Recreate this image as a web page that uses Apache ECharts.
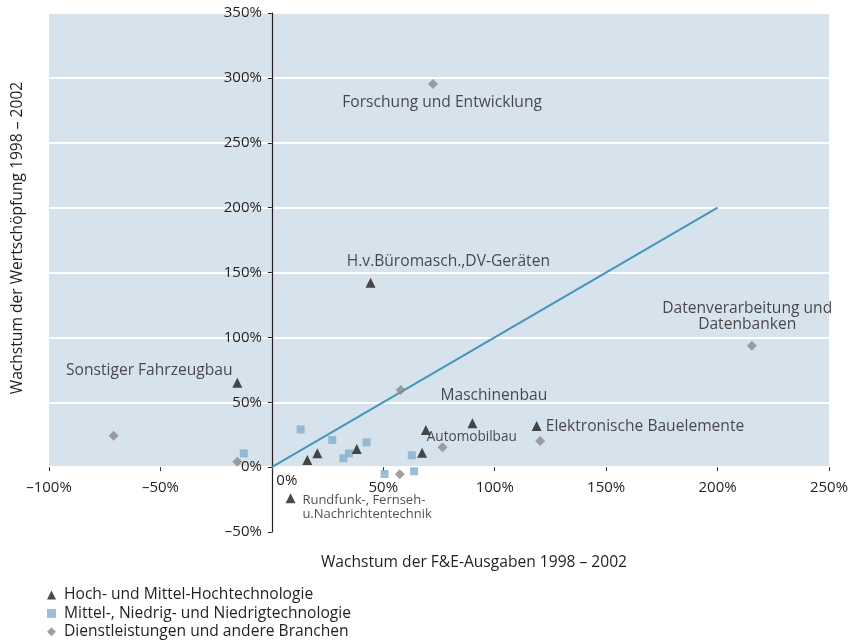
<!DOCTYPE html>
<html><head><meta charset="utf-8">
<script src="https://cdn.jsdelivr.net/npm/echarts@6/dist/echarts.min.js"></script>
<style>html,body{margin:0;padding:0;background:#fff}#c{width:855px;height:641px}</style>
</head><body><div id="c"></div>
<script>
// ---- data ----
const seriesNames = ['Hoch- und Mittel-Hochtechnologie', 'Mittel-, Niedrig- und Niedrigtechnologie', 'Dienstleistungen und andere Branchen'];
const hochX = [-15.5, 44.3, 15.9, 20.4, 38.1, 67.4, 69.1, 90.0, 118.8, 8.4];
const hochY = [65.0, 142.1, 5.5, 10.6, 13.9, 11.1, 28.6, 33.8, 31.7, -24.0];
const mittelX = [12.9, 27.1, 32.1, 34.6, 42.5, 50.6, 62.8, 63.8, -12.6];
const mittelY = [29.1, 20.9, 6.8, 10.6, 19.1, -5.3, 9.1, -3.2, 10.6];
const dienstX = [72.3, 215.4, 120.4, 76.6, 57.8, 57.4, -71.0, -15.5];
const dienstY = [295.3, 93.6, 20.1, 15.3, 59.4, -5.5, 24.2, 4.2];
const trendX = [0, 200];
const trendY = [0, 200];
const xMin = -100, xMax = 250, xStep = 50;
const yMin = -50, yMax = 350, yStep = 50;
const xTitle = 'Wachstum der F&E-Ausgaben 1998 – 2002';
const yTitle = 'Wachstum der Wertschöpfung 1998 – 2002';
// annotation texts and their anchors (data units)
const annotTexts = ['Forschung und Entwicklung', 'H.v.Büromasch.,DV-Geräten', 'Sonstiger Fahrzeugbau', 'Maschinenbau', 'Automobilbau', 'Elektronische Bauelemente', 'Datenverarbeitung und\nDatenbanken', 'Rundfunk-, Fernseh-\nu.Nachrichtentechnik'];
const annotX = [76.4, 79.2, -55.0, 99.6, 89.7, 122.9, 213.3, 13.7];
const annotY = [281.0, 158.3, 74.8, 54.8, 23.4, 31.1, 116.2, -31.1];

// ---- styles / layout ----
const FONT = 'Open Sans';
const TXT = '#231f20';
const FS = 15.6;
const annotStyle = [
  {align: 'center', fontSize: FS}, {align: 'center', fontSize: FS}, {align: 'center', fontSize: FS},
  {align: 'center', fontSize: FS}, {align: 'center', fontSize: 13.6}, {align: 'left', fontSize: FS},
  {align: 'center', fontSize: FS, lineHeight: 16}, {align: 'left', fontSize: 13, lineHeight: 14}
];
const G = {left: 49, right: 26, top: 13, bottom: 109};
const W = 855, H = 641;
const gridW = W - G.left - G.right, gridH = H - G.top - G.bottom;
// place axes through the origin
const yAxisOffset = -((0 - xMin) / (xMax - xMin)) * gridW;
const xAxisOffset = -((0 - yMin) / (yMax - yMin)) * gridH;

const zip = (xs, ys) => xs.map((x, i) => [x, ys[i]]);
const pct = v => (v < 0 ? '–' + Math.abs(v) : String(v)) + '%';

const chart = echarts.init(document.getElementById('c'), null, {renderer: 'canvas'});
chart.setOption({
  animation: false,
  textStyle: {fontFamily: FONT, color: TXT},
  grid: Object.assign({containLabel: false}, G),
  xAxis: {
    type: 'value', min: xMin, max: xMax, interval: xStep, position: 'bottom', offset: xAxisOffset,
    axisLine: {show: true, onZero: false, lineStyle: {color: 'rgba(0,0,0,0)'}},
    axisTick: {show: true, length: 4, lineStyle: {color: '#333'}},
    splitLine: {show: false},
    axisLabel: {
      margin: 12, fontSize: 15, lineHeight: 18, color: TXT, fontFamily: FONT,
      formatter: v => v === 0 ? '{z|0%}' : pct(v),
      rich: {z: {padding: [0, 0, 0, 30], lineHeight: 4, fontSize: 15, color: TXT, fontFamily: FONT}}
    }
  },
  yAxis: {
    type: 'value', min: yMin, max: yMax, interval: yStep, position: 'left', offset: yAxisOffset,
    axisLine: {show: true, onZero: false, lineStyle: {color: '#231f20', width: 1.2}},
    axisTick: {show: true, length: 4, lineStyle: {color: '#231f20'}},
    splitLine: {show: true, lineStyle: {color: '#ffffff', width: 2}},
    splitArea: {show: true, areaStyle: {color: ['#ffffff', '#d6e2ec', '#d6e2ec', '#d6e2ec', '#d6e2ec', '#d6e2ec', '#d6e2ec', '#d6e2ec']}},
    axisLabel: {margin: 10, fontSize: 15, color: TXT, fontFamily: FONT, formatter: pct}
  },
  legend: {
    orient: 'vertical', left: 47, top: 587, height: 80, padding: 0, itemWidth: 9, itemHeight: 9, itemGap: 2.4,
    textStyle: {fontSize: FS, color: TXT, fontFamily: FONT, lineHeight: 14, padding: [0, 0, 0, 3]},
    data: [
      {name: seriesNames[0], icon: 'triangle'},
      {name: seriesNames[1], icon: 'rect'},
      {name: seriesNames[2], icon: 'diamond'}
    ]
  },
  graphic: [
    {type: 'text', x: 474, y: 563, style: {text: xTitle, align: 'center', verticalAlign: 'middle', fontSize: FS, fontFamily: FONT, fill: TXT}},
    {type: 'text', x: 18, y: 238, rotation: Math.PI / 2, style: {text: yTitle, align: 'center', verticalAlign: 'middle', fontSize: FS, fontFamily: FONT, fill: TXT}}
  ],
  series: [
    {
      type: 'line', name: 'trend', data: zip(trendX, trendY), symbol: 'none',
      lineStyle: {color: '#4596b8', width: 2}, z: 2, silent: true
    },
    {
      type: 'scatter', name: seriesNames[0], data: zip(hochX, hochY), symbol: 'triangle', symbolSize: [10, 10],
      itemStyle: {color: '#1e1e1e'}, z: 4
    },
    {
      type: 'scatter', name: seriesNames[1], data: zip(mittelX, mittelY), symbol: 'rect', symbolSize: 8,
      itemStyle: {color: '#84afcb'}, z: 3
    },
    {
      type: 'scatter', name: seriesNames[2], data: zip(dienstX, dienstY), symbol: 'diamond', symbolSize: 10,
      itemStyle: {color: '#8a8a8a'}, z: 3
    },
    {
      type: 'scatter', name: 'labels', symbolSize: 0, silent: true, z: 5,
      data: annotTexts.map((t, i) => ({
        value: [annotX[i], annotY[i]],
        label: Object.assign({show: true, position: 'inside', formatter: t, color: TXT, fontFamily: FONT, verticalAlign: 'middle'}, annotStyle[i])
      }))
    }
  ]
});
</script></body></html>
